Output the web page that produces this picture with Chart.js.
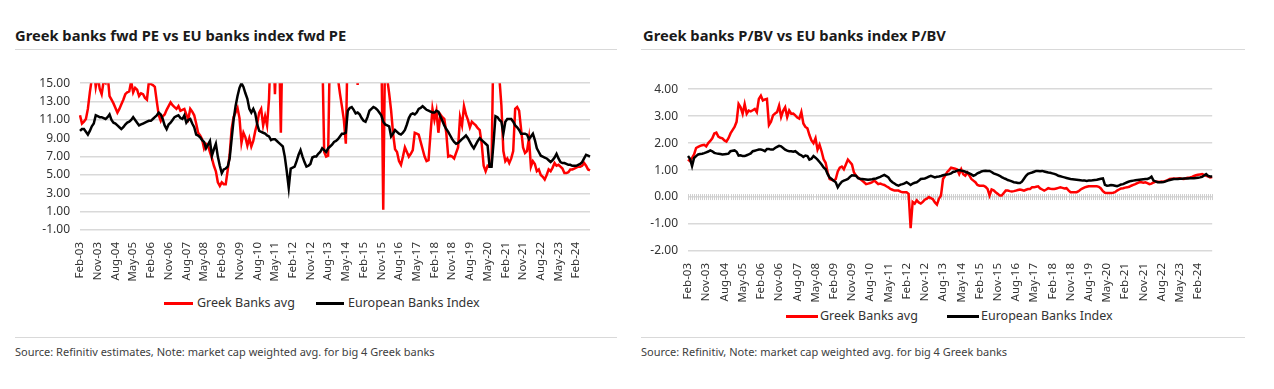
<!DOCTYPE html>
<html>
<head>
<meta charset="utf-8">
<script src="https://cdn.jsdelivr.net/npm/chart.js@4.4.1/dist/chart.umd.min.js"></script>
<style>
  body { margin: 0; background: #fff; width: 1274px; height: 389px; position: relative; overflow: hidden; font-family: "Noto Sans", sans-serif; }
  .title { position: absolute; top: 25px; font-weight: bold; font-size: 14.7px; color: #1a1a1a; white-space: nowrap; }
  .rule { position: absolute; height: 1px; background: #d9d9d9; }
  .source { position: absolute; top: 344px; font-size: 11px; color: #404040; white-space: nowrap; }
  .box { position: absolute; }
  .lg { position: absolute; height: 3px; }
  .lt { position: absolute; font-size: 12.5px; color: #333; white-space: nowrap; line-height: 16px; }
</style>
</head>
<body>
<div class="title" style="left:15px">Greek banks fwd PE vs EU banks index fwd PE</div>
<div class="rule" style="left:15px; width:602px; top:49px"></div>
<div class="box" style="left:20px; top:66px; width:590px; height:220px"><canvas id="pe"></canvas></div>
<div id="legendPE"></div>
<div class="rule" style="left:15px; width:602px; top:337px"></div>
<div class="source" style="left:15px">Source: Refinitiv estimates, Note: market cap weighted avg. for big 4 Greek banks</div>

<div class="title" style="left:643px">Greek banks P/BV vs EU banks index P/BV</div>
<div class="rule" style="left:641px; width:604px; top:49px"></div>
<div class="box" style="left:630px; top:72px; width:600px; height:235px"><canvas id="pb"></canvas></div>
<div id="legendPB"></div>
<div class="rule" style="left:641px; width:604px; top:337px"></div>
<div class="source" style="left:641px">Source: Refinitiv, Note: market cap weighted avg. for big 4 Greek banks</div>

<script>
// monthly points, Feb-03 .. Sep-24
const monthNames = ['Jan','Feb','Mar','Apr','May','Jun','Jul','Aug','Sep','Oct','Nov','Dec'];
const months = [];
for (let i = 0; i < 260; i++) {
  const m = (1 + i) % 12;
  const y = 2003 + Math.floor((1 + i) / 12);
  months.push(monthNames[m] + '-' + String(y % 100).padStart(2, '0'));
}

const tickLabels = ['Feb-03','Nov-03','Aug-04','May-05','Feb-06','Nov-06','Aug-07','May-08','Feb-09',
  'Nov-09','Aug-10','May-11','Feb-12','Nov-12','Aug-13','May-14','Feb-15','Nov-15','Aug-16',
  'May-17','Feb-18','Nov-18','Aug-19','May-20','Feb-21','Nov-21','Aug-22','May-23','Feb-24'];

const seriesNames = ['Greek Banks avg', 'European Banks Index'];

// fwd PE (values above 15 run off the top of the axis)
const peGreek = [
  11.5, 10.6, 10.8, 11.1, 12.2, 14.0, 15.5, 16.5, 14.6, 15.8,
  14.4, 13.8, 15.2, 15.0, 16.0, 13.6, 13.2, 12.8, 12.3, 11.8,
  12.2, 12.7, 13.2, 13.8, 14.0, 14.1, 15.2, 14.0, 14.5, 14.3,
  13.6, 13.9, 13.8, 13.4, 13.2, 15.2, 14.9, 14.8, 14.6, 13.0,
  11.5, 10.9, 11.4, 11.6, 12.1, 12.5, 12.9, 12.6, 12.4, 12.2,
  12.5, 12.0, 12.1, 12.2, 11.6, 11.1, 12.2, 11.9, 11.5, 10.6,
  9.6, 9.3, 8.9, 7.9, 8.4, 8.2, 7.5, 6.8, 6.0, 5.4,
  4.2, 3.8, 4.2, 4.0, 4.0, 5.5, 7.2, 10.0, 11.3, 11.8,
  12.3, 11.2, 8.5, 9.6, 9.1, 8.2, 9.0, 8.1, 8.7, 9.8,
  10.6, 11.8, 12.2, 10.4, 11.4, 10.4, 13.3, 20, 20, 13.8,
  20, 20, 9.6, 22, 24, 25, 30, 28, 26, 24,
  25, 27, 28, 26, 24, 23, 22, 24, 22, 21,
  20, 21, 20, 19, 7.5, 7.0, 7.1, 20, 22, 24,
  21, 15.5, 13.9, 12.5, 11.0, 8.4, 20, 22, 24, 21,
  20, 14.8, 20, 22, 24, 26, 25, 24, 22, 21,
  22, 24, 21, 20, 1.2, 20, 15.5, 13.9, 12.0, 9.5,
  7.8, 7.5, 6.5, 6.1, 7.0, 8.0, 7.5, 7.0, 7.3, 7.7,
  9.6, 9.5, 9.4, 8.6, 7.8, 7.0, 6.5, 6.6, 9.5, 12.2,
  11.0, 12.0, 9.6, 11.6, 11.3, 11.1, 9.6, 7.0, 7.1, 7.0,
  6.8, 7.4, 8.0, 11.3, 10.4, 12.5, 11.6, 11.0, 10.2, 10.8,
  10.6, 10.4, 10.1, 9.9, 8.4, 6.0, 5.4, 6.0, 5.9, 6.0,
  20, 22, 20, 15.5, 12.6, 7.6, 6.5, 6.8, 6.3, 6.8,
  7.6, 12.2, 12.4, 12.0, 10.0, 8.0, 7.4, 7.6, 9.0, 5.9,
  6.5, 6.2, 5.4, 5.6, 5.0, 4.8, 4.5, 5.0, 5.6, 5.4,
  5.8, 6.3, 6.0, 6.1, 5.9, 5.7, 5.2, 5.2, 5.3, 5.6,
  5.6, 5.7, 5.8, 5.9, 5.9, 6.0, 6.3, 6.0, 5.6, 5.5
];
const peEurope = [
  9.8, 10.0, 10.0, 9.7, 9.4, 9.8, 10.3, 10.6, 11.5, 11.4,
  11.3, 11.3, 11.2, 11.1, 11.3, 11.6, 11.0, 10.7, 10.6, 10.4,
  10.2, 10.0, 10.2, 10.5, 10.7, 10.8, 11.0, 11.3, 11.0, 10.7,
  10.4, 10.5, 10.6, 10.7, 10.8, 10.9, 10.9, 11.1, 11.3, 11.5,
  11.8, 11.6, 11.1, 10.4, 10.0, 10.5, 10.7, 11.0, 11.3, 11.4,
  11.5, 11.2, 11.1, 11.5, 10.7, 11.0, 11.1, 10.6, 10.2, 9.4,
  9.3, 9.1, 8.8, 8.6, 7.9, 8.3, 8.7, 7.1, 7.8, 8.4,
  7.0, 6.0, 5.2, 5.6, 5.7, 5.9, 6.8, 8.9, 11.0, 12.5,
  13.6, 14.5, 15.0, 14.6, 13.9, 13.3, 12.2, 11.8, 12.2, 11.7,
  10.5, 9.8, 9.7, 9.6, 9.5, 9.3, 9.2, 8.8, 8.9, 8.9,
  8.7, 8.5, 8.3, 8.1, 7.0, 5.4, 3.6, 5.7, 5.8, 5.9,
  6.5, 7.2, 7.7, 7.0, 6.4, 5.9, 6.0, 6.2, 6.9, 7.0,
  7.0, 7.3, 7.5, 7.9, 7.7, 7.5, 7.9, 8.1, 8.3, 8.6,
  8.7, 8.9, 9.2, 9.5, 9.5, 9.6, 12.0, 12.3, 12.4, 12.1,
  11.7, 11.8, 11.6, 11.2, 10.9, 10.8, 11.3, 12.0, 12.2, 12.4,
  12.3, 12.1, 11.8, 11.5, 10.8, 10.5, 10.4, 10.3, 9.2, 9.5,
  9.9, 9.7, 9.5, 9.4, 9.6, 9.9, 10.5, 11.2, 11.6, 11.7,
  11.6, 11.8, 12.2, 12.3, 12.5, 12.3, 12.1, 12.0, 11.9, 11.8,
  11.8, 12.0, 11.9, 11.4, 10.9, 10.4, 10.0, 9.7, 9.3, 8.9,
  8.6, 8.4, 8.5, 8.7, 8.9, 9.1, 9.3, 9.0, 8.6, 8.2,
  7.9, 8.3, 8.7, 9.0, 8.8, 8.6, 8.4, 8.2, 5.9, 5.9,
  8.5, 11.4, 11.3, 11.0, 10.8, 9.5, 10.8, 11.1, 11.1, 11.1,
  10.8, 10.4, 10.2, 9.9, 9.5, 9.5, 9.5, 9.4, 8.9, 9.2,
  9.5, 8.8, 7.9, 7.5, 7.1, 7.0, 6.9, 6.8, 6.6, 6.4,
  6.6, 6.9, 7.3, 6.8, 6.4, 6.3, 6.3, 6.2, 6.1, 6.1,
  6.0, 6.0, 6.0, 6.1, 6.2, 6.4, 6.8, 7.2, 7.1, 7.0
];

// P/BV
const pbGreek = [
  1.39, 1.33, 1.45, 1.58, 1.82, 1.86, 1.90, 1.92, 1.94, 1.88,
  2.00, 2.08, 2.18, 2.36, 2.39, 2.24, 2.20, 2.18, 2.10, 2.06,
  2.18, 2.36, 2.48, 2.60, 2.79, 3.45, 3.33, 3.09, 3.45, 3.09,
  3.21, 3.18, 3.22, 3.27, 3.15, 3.64, 3.76, 3.58, 3.62, 3.64,
  2.67, 2.79, 3.03, 3.10, 3.15, 3.39, 2.97, 3.20, 3.33, 2.97,
  3.21, 3.09, 3.10, 3.03, 2.95, 2.91, 3.15, 2.73, 2.60, 2.55,
  2.30, 2.10, 2.00, 2.18, 1.76, 1.94, 1.70, 1.40, 1.27, 0.91,
  0.67, 0.64, 0.61, 0.67, 0.95, 1.09, 1.13, 1.03, 1.21, 1.39,
  1.30, 1.21, 0.91, 0.79, 0.73, 0.67, 0.61, 0.55, 0.48, 0.50,
  0.52, 0.55, 0.61, 0.55, 0.48, 0.50, 0.47, 0.45, 0.40, 0.36,
  0.30, 0.27, 0.24, 0.24, 0.24, 0.20, 0.18, 0.18, 0.18, 0.12,
  -1.15, -0.18, -0.24, -0.12, -0.20, -0.24, -0.18, -0.10, -0.06, 0.00,
  -0.04, -0.08, -0.20, -0.28, -0.06, 0.06, 0.67, 0.79, 0.92, 1.00,
  1.09, 1.07, 1.05, 1.02, 0.85, 1.03, 0.85, 0.79, 0.91, 0.80,
  0.67, 0.61, 0.55, 0.45, 0.42, 0.42, 0.42, 0.38, 0.30, 0.06,
  0.28, 0.25, 0.18, 0.12, 0.06, 0.06, 0.15, 0.24, 0.24, 0.22,
  0.21, 0.22, 0.24, 0.26, 0.28, 0.26, 0.24, 0.27, 0.30, 0.30,
  0.36, 0.36, 0.38, 0.40, 0.32, 0.28, 0.24, 0.28, 0.33, 0.31,
  0.30, 0.30, 0.32, 0.34, 0.36, 0.34, 0.32, 0.33, 0.25, 0.18,
  0.18, 0.18, 0.18, 0.22, 0.28, 0.32, 0.36, 0.38, 0.40, 0.40,
  0.40, 0.40, 0.40, 0.38, 0.32, 0.22, 0.16, 0.15, 0.15, 0.15,
  0.16, 0.18, 0.24, 0.28, 0.32, 0.33, 0.35, 0.36, 0.38, 0.42,
  0.45, 0.48, 0.52, 0.55, 0.55, 0.53, 0.55, 0.52, 0.48, 0.50,
  0.54, 0.57, 0.57, 0.56, 0.58, 0.57, 0.60, 0.63, 0.67, 0.68,
  0.69, 0.68, 0.69, 0.70, 0.68, 0.67, 0.70, 0.72, 0.73, 0.75,
  0.78, 0.81, 0.83, 0.84, 0.85, 0.82, 0.79, 0.77, 0.73, 0.74
];
const pbEurope = [
  1.52, 1.42, 1.15, 1.45, 1.52, 1.58, 1.60, 1.61, 1.63, 1.66,
  1.69, 1.73, 1.70, 1.64, 1.62, 1.61, 1.60, 1.58, 1.59, 1.60,
  1.61, 1.70, 1.72, 1.73, 1.68, 1.54, 1.55, 1.52, 1.52, 1.55,
  1.58, 1.62, 1.70, 1.72, 1.74, 1.76, 1.76, 1.74, 1.70, 1.78,
  1.78, 1.76, 1.76, 1.82, 1.86, 1.90, 1.88, 1.82, 1.76, 1.72,
  1.70, 1.70, 1.68, 1.70, 1.64, 1.58, 1.55, 1.49, 1.54, 1.52,
  1.39, 1.42, 1.52, 1.46, 1.39, 1.30, 1.21, 1.10, 1.03, 0.85,
  0.72, 0.67, 0.60, 0.55, 0.36, 0.48, 0.57, 0.61, 0.64, 0.67,
  0.75, 0.81, 0.80, 0.79, 0.70, 0.68, 0.67, 0.66, 0.65, 0.64,
  0.65, 0.66, 0.68, 0.69, 0.72, 0.75, 0.79, 0.82, 0.78, 0.73,
  0.62, 0.55, 0.50, 0.45, 0.42, 0.46, 0.48, 0.51, 0.55, 0.50,
  0.45, 0.50, 0.53, 0.55, 0.60, 0.67, 0.68, 0.69, 0.72, 0.76,
  0.79, 0.76, 0.73, 0.75, 0.76, 0.78, 0.81, 0.83, 0.84, 0.85,
  0.88, 0.93, 0.95, 0.98, 1.00, 0.98, 0.97, 0.94, 0.91, 0.88,
  0.84, 0.79, 0.82, 0.88, 0.91, 0.95, 0.97, 0.98, 0.97, 0.97,
  0.93, 0.88, 0.85, 0.82, 0.79, 0.74, 0.70, 0.67, 0.63, 0.61,
  0.58, 0.55, 0.54, 0.52, 0.52, 0.57, 0.68, 0.79, 0.86, 0.89,
  0.91, 0.94, 0.97, 0.97, 0.96, 0.97, 0.95, 0.93, 0.91, 0.90,
  0.88, 0.86, 0.83, 0.79, 0.77, 0.75, 0.73, 0.71, 0.69, 0.67,
  0.66, 0.65, 0.64, 0.63, 0.62, 0.61, 0.61, 0.60, 0.61, 0.61,
  0.62, 0.63, 0.64, 0.66, 0.68, 0.69, 0.45, 0.42, 0.43, 0.45,
  0.44, 0.42, 0.40, 0.43, 0.47, 0.48, 0.52, 0.55, 0.58, 0.60,
  0.61, 0.62, 0.63, 0.64, 0.65, 0.66, 0.67, 0.67, 0.70, 0.76,
  0.61, 0.58, 0.55, 0.55, 0.55, 0.56, 0.58, 0.61, 0.63, 0.65,
  0.67, 0.67, 0.67, 0.68, 0.68, 0.69, 0.69, 0.69, 0.70, 0.70,
  0.70, 0.71, 0.72, 0.73, 0.75, 0.80, 0.85, 0.78, 0.76, 0.76
];

const RED = '#ff0000';
const BLACK = '#000000';
const TXT = '#333333';
const GRID = '#d9d9d9';

// excel-style category tick marks along the zero line
const zeroTicks = {
  id: 'zeroTicks',
  beforeDatasetsDraw(chart) {
    const x = chart.scales.x, y = chart.scales.y;
    const y0 = y.getPixelForValue(0);
    const ctx = chart.ctx;
    ctx.save();
    ctx.strokeStyle = '#cfcfcf';
    ctx.lineWidth = 1;
    for (let i = 0; i < months.length; i++) {
      const px = Math.round(x.getPixelForValue(i)) + 0.5;
      ctx.beginPath();
      ctx.moveTo(px, y0 - 3);
      ctx.lineTo(px, y0 + 3);
      ctx.stroke();
    }
    ctx.restore();
  }
};

// html legend: [line x, text x] for each series, and the row's y
function legend(id, items, y) {
  const colors = [RED, BLACK];
  let html = '';
  items.forEach((it, k) => {
    html += '<div class="lg" style="left:' + it[0] + 'px; top:' + (y - 1) + 'px; width:' + it[1] + 'px; background:' + colors[k] + '"></div>';
    html += '<div class="lt" style="left:' + it[2] + 'px; top:' + (y - 8) + 'px">' + seriesNames[k] + '</div>';
  });
  document.getElementById(id).innerHTML = html;
}

function makeChart(id, greek, europe, yMin, yMax, step, yWidth, xHeight, pad, plugins) {
  const ctx = document.getElementById(id).getContext('2d');
  return new Chart(ctx, {
    type: 'line',
    data: {
      labels: months,
      datasets: [
        { label: seriesNames[0], data: greek, borderColor: RED, backgroundColor: RED,
          borderWidth: 2.5, pointRadius: 0, tension: 0, order: 1 },
        { label: seriesNames[1], data: europe, borderColor: BLACK, backgroundColor: BLACK,
          borderWidth: 2.5, pointRadius: 0, tension: 0, order: 0 }
      ]
    },
    options: {
      responsive: true,
      maintainAspectRatio: false,
      animation: false,
      layout: { padding: pad },
      plugins: {
        legend: { display: false },
        tooltip: { enabled: false }
      },
      scales: {
        x: {
          grid: { display: false },
          border: { display: false },
          afterFit: (s) => { s.height = xHeight; },
          ticks: {
            autoSkip: false, minRotation: 90, maxRotation: 90, padding: 4,
            color: TXT, font: { family: 'Noto Sans', size: 11.5 },
            callback: (v, i) => tickLabels.includes(months[i]) ? months[i] : ''
          }
        },
        y: {
          min: yMin, max: yMax,
          grid: { color: GRID, lineWidth: 1.5, drawTicks: false },
          border: { display: false },
          afterFit: (s) => { s.width = yWidth; },
          ticks: {
            stepSize: step, autoSkip: false, padding: 10, color: TXT,
            font: { family: 'Noto Sans', size: 12 },
            callback: (v) => Number(v).toFixed(2)
          }
        }
      }
    },
    plugins: plugins
  });
}

makeChart('pe', peGreek, peEurope, -1, 15, 2, 60, 56, { top: 15, right: 20, left: 0, bottom: 0 }, []);
makeChart('pb', pbGreek, pbEurope, -2, 4, 1, 58, 56, { top: 14, right: 16, left: 0, bottom: 0 }, [zeroTicks]);

legend('legendPE', [[164, 29, 197], [316, 28, 348]], 303);
legend('legendPB', [[786, 32, 820], [947, 32, 981]], 316);
</script>
</body>
</html>
